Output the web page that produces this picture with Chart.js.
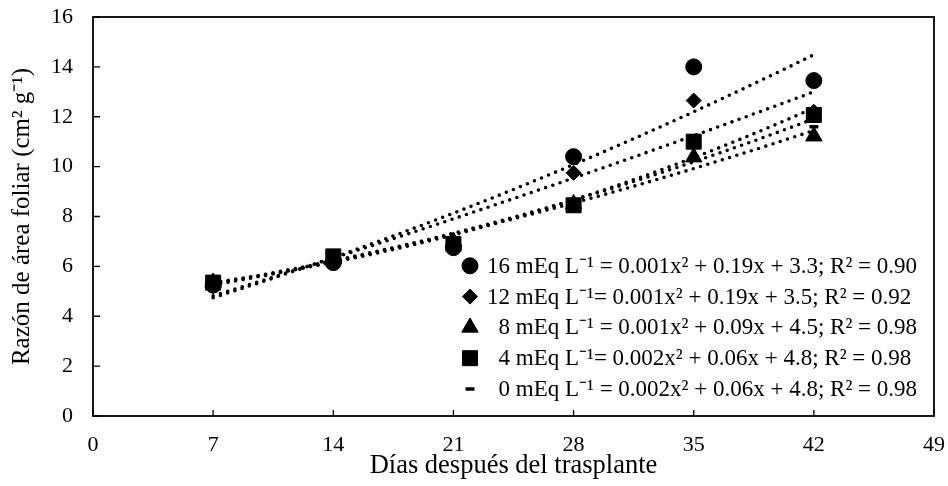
<!DOCTYPE html>
<html>
<head>
<meta charset="utf-8">
<script src="https://cdn.jsdelivr.net/npm/chart.js@4.4.0/dist/chart.umd.min.js"></script>
<style>
  html, body { margin: 0; padding: 0; background: #fff; }
  #wrap { width: 948px; height: 486px; }
</style>
</head>
<body>
<div id="wrap"><canvas id="rafChart"></canvas></div>
<script>
// days after transplant
const days = [7, 14, 21, 28, 35, 42];

// leaf area ratio (cm2 g-1) per nutrient level
const raf16 = [5.25, 6.15, 6.75, 10.4, 14.0, 13.45];
const raf12 = [5.2, 6.2, 6.85, 9.75, 12.65, 12.2];
const raf8 = [5.35, 6.3, 7.0, 8.5, 10.38, 11.22];
const raf4 = [5.35, 6.4, 6.9, 8.45, 11.0, 12.07];
const raf0 = [5.3, 6.3, 7.05, 8.4, 10.9, 11.6];

const seriesNames = ['16 mEq L\u207B\u00B9', '12 mEq L\u207B\u00B9', '  8 mEq L\u207B\u00B9', '  4 mEq L\u207B\u00B9', '  0 mEq L\u207B\u00B9'];
const equations = [
    ' = 0.001x\u00B2 + 0.19x + 3.3; R\u00B2 = 0.90',
    '= 0.001x\u00B2 + 0.19x + 3.5; R\u00B2 = 0.92',
    ' = 0.001x\u00B2 + 0.09x + 4.5; R\u00B2 = 0.98',
    '= 0.002x\u00B2 + 0.06x + 4.8; R\u00B2 = 0.98',
    ' = 0.002x\u00B2 + 0.06x + 4.8; R\u00B2 = 0.98'
];

const xTitle = 'Días después del trasplante';
const yTitle = 'Razón de área foliar (cm\u00B2 g\u207B\u00B9)';

const allSeries = [raf16, raf12, raf8, raf4, raf0];
const markerStyle = ['circle', 'rectRot', 'triangle', 'rect', 'line'];
const markerRadius = [8, 7.5, 9.5, 10.6, 4.5];

const serif = "'Liberation Serif', 'Times New Roman', serif";

// least squares y = a + b x + c x^2 (same as the Excel polynomial trendline)
function quadFit(xs, ys) {
    let n = xs.length, s1 = 0, s2 = 0, s3 = 0, s4 = 0, t0 = 0, t1 = 0, t2 = 0;
    for (let i = 0; i < n; i++) {
        const x = xs[i], y = ys[i];
        s1 += x; s2 += x * x; s3 += x * x * x; s4 += x * x * x * x;
        t0 += y; t1 += x * y; t2 += x * x * y;
    }
    const det = (m) => m[0][0] * (m[1][1] * m[2][2] - m[1][2] * m[2][1])
        - m[0][1] * (m[1][0] * m[2][2] - m[1][2] * m[2][0])
        + m[0][2] * (m[1][0] * m[2][1] - m[1][1] * m[2][0]);
    const M = [[n, s1, s2], [s1, s2, s3], [s2, s3, s4]];
    const T = [t0, t1, t2];
    const D = det(M);
    const coef = [0, 1, 2].map(k => det(M.map((row, r) => row.map((v, c) => c === k ? T[r] : v))) / D);
    return x => coef[0] + coef[1] * x + coef[2] * x * x;
}

const datasets = [];
allSeries.forEach((ys, i) => {
    const f = quadFit(days, ys);
    const pts = [];
    for (let x = days[0]; x <= days[days.length - 1] + 0.001; x += 0.5) pts.push({ x: x, y: f(x) });
    datasets.push({
        label: 'trend ' + seriesNames[i],
        data: pts,
        showLine: true,
        pointRadius: 0,
        borderColor: '#000',
        borderWidth: 3.6,
        borderDash: [0, 7.6],
        borderCapStyle: 'round',
        order: 20
    });
});
allSeries.forEach((ys, i) => {
    datasets.push({
        label: seriesNames[i],
        data: days.map((d, k) => ({ x: d, y: ys[k] })),
        showLine: false,
        pointStyle: markerStyle[i],
        pointRadius: markerRadius[i],
        pointBackgroundColor: '#000',
        pointBorderColor: '#000',
        pointBorderWidth: markerStyle[i] === 'line' ? 3.5 : 1,
        order: 5 - i
    });
});

// plot frame and inward tick marks
const framePlugin = {
    id: 'framePlugin',
    beforeDatasetsDraw(chart) {
        const { ctx, chartArea: a, scales } = chart;
        ctx.save();
        ctx.strokeStyle = '#000';
        ctx.lineWidth = 1.8;
        ctx.strokeRect(a.left, a.top, a.right - a.left, a.bottom - a.top);
        ctx.lineWidth = 1.3;
        ctx.beginPath();
        scales.x.ticks.forEach(t => {
            const px = scales.x.getPixelForValue(t.value);
            ctx.moveTo(px, a.bottom);
            ctx.lineTo(px, a.bottom - 6);
        });
        scales.y.ticks.forEach(t => {
            const py = scales.y.getPixelForValue(t.value);
            ctx.moveTo(a.left, py);
            ctx.lineTo(a.left + 7, py);
        });
        ctx.stroke();
        ctx.restore();
    }
};

// legend drawn inside the plot, lower right
const legendPlugin = {
    id: 'legendPlugin',
    afterDraw(chart) {
        const { ctx, chartArea: a } = chart;
        const rowH = 30.8;
        const markerX = a.right - 464;
        const textX = a.right - 447;
        ctx.save();
        ctx.font = '23px ' + serif;
        ctx.fillStyle = '#000';
        ctx.textBaseline = 'middle';
        ctx.textAlign = 'left';
        seriesNames.forEach((name, i) => {
            const y = a.bottom - 27 - (seriesNames.length - 1 - i) * rowH;
            ctx.fillStyle = '#000';
            ctx.strokeStyle = '#000';
            ctx.lineWidth = markerStyle[i] === 'line' ? 3.5 : 1;
            Chart.helpers.drawPoint(ctx, {
                pointStyle: markerStyle[i],
                radius: markerRadius[i],
                rotation: 0,
                borderWidth: ctx.lineWidth
            }, markerX, y);
            ctx.fillText(name + equations[i], textX, y + 1);
        });
        ctx.restore();
    }
};

const chart = new Chart(document.getElementById('rafChart').getContext('2d'), {
    type: 'scatter',
    data: { datasets: datasets },
    options: {
        responsive: true,
        maintainAspectRatio: false,
        animation: false,
        layout: { padding: { top: 17, right: 14, left: 0, bottom: 0 } },
        plugins: {
            legend: { display: false },
            tooltip: { enabled: false }
        },
        scales: {
            x: {
                type: 'linear',
                min: 0,
                max: 49,
                ticks: { stepSize: 7, color: '#000', padding: 16, font: { family: serif, size: 22 } },
                grid: { display: false, drawTicks: false },
                border: { display: false },
                title: { display: true, text: xTitle, color: '#000', font: { family: serif, size: 26.5 }, padding: { top: 0, bottom: 4 } },
                afterFit(scale) { scale.height = 70; scale.paddingLeft = 0; scale.paddingRight = 0; }
            },
            y: {
                type: 'linear',
                min: 0,
                max: 16,
                ticks: { stepSize: 2, color: '#000', padding: 20, font: { family: serif, size: 22 } },
                grid: { display: false, drawTicks: false },
                border: { display: false },
                title: { display: true, text: yTitle, color: '#000', font: { family: serif, size: 25 }, padding: { top: 7, bottom: 0 } },
                afterFit(scale) { scale.width = 93; scale.paddingTop = 0; scale.paddingBottom = 0; }
            }
        }
    },
    plugins: [framePlugin, legendPlugin]
});
</script>
</body>
</html>
